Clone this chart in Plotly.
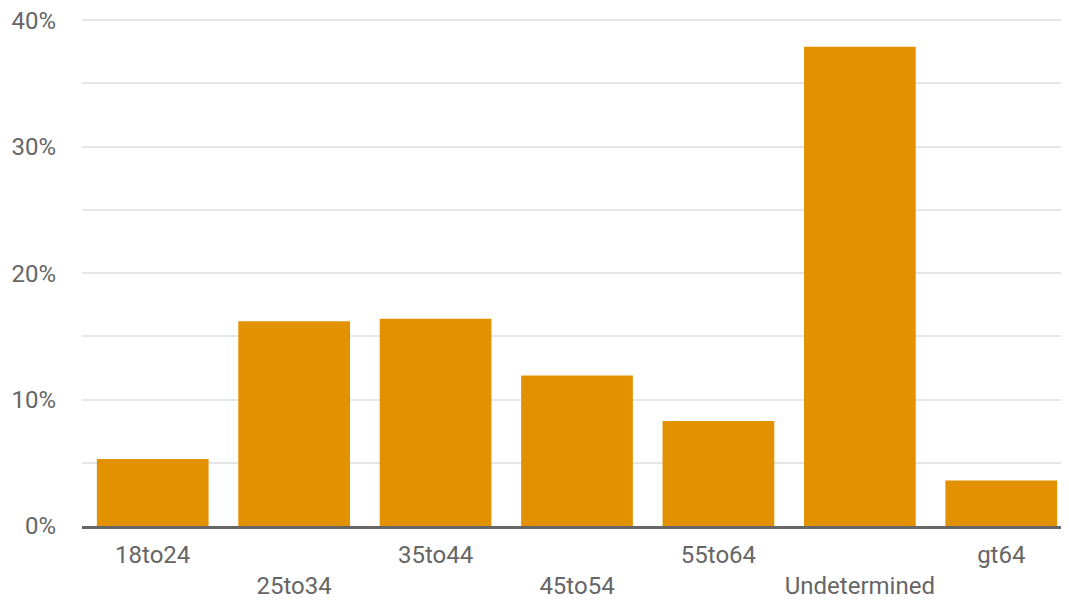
import plotly.graph_objects as go

categories = ["18to24", "25to34", "35to44", "45to54", "55to64", "Undetermined", "gt64"]
values = [5.3, 16.2, 16.4, 11.9, 8.3, 37.9, 3.6]
y_ticks = [0, 10, 20, 30, 40]
y_labels = ["0%", "10%", "20%", "30%", "40%"]
y_grid = [0, 5, 10, 15, 20, 25, 30, 35, 40]

ticktext = [c if i % 2 == 0 else "<br>" + c for i, c in enumerate(categories)]

fig = go.Figure(go.Bar(x=categories, y=values, marker_color="#e29100", marker_line_width=0))

fig.update_layout(
    width=1069, height=604,
    margin=dict(l=74, r=5, t=11, b=86),
    plot_bgcolor="white", paper_bgcolor="white",
    bargap=0.21,
    font=dict(family="Roboto", size=24, color="#666666"),
    showlegend=False,
)
fig.update_xaxes(
    tickmode="array", tickvals=categories, ticktext=ticktext,
    showline=True, linecolor="#666666", linewidth=3,
    ticks="", showgrid=False, ticklabelstandoff=5,
    automargin=False,
)
fig.update_yaxes(
    range=[0, 40.1], tickmode="array", tickvals=y_grid,
    ticktext=[y_labels[y_ticks.index(v)] if v in y_ticks else "" for v in y_grid],
    showgrid=True, gridcolor="#e6e6e6", gridwidth=2,
    zeroline=False, ticks="", ticklabelstandoff=25,
    ticklabeloverflow="allow", automargin=False,
)

fig.write_html("out.html")
